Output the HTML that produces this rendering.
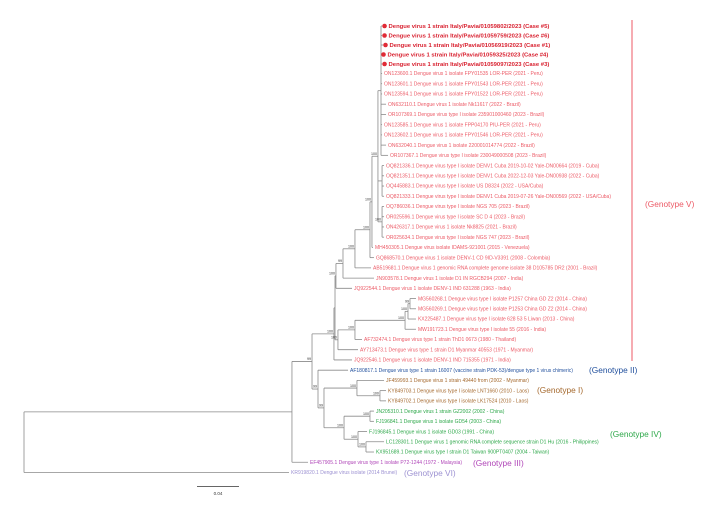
<!DOCTYPE html>
<html><head><meta charset="utf-8"><style>
html,body{margin:0;padding:0;background:#fff;}
svg{display:block;font-family:"Liberation Sans",sans-serif;}
</style></head><body>
<svg id="tree" width="725" height="509" viewBox="0 0 725 509" xmlns="http://www.w3.org/2000/svg"></svg>
<script>
// ---- data ----
const leafNames = [
"Dengue virus 1 strain Italy/Pavia/01059802/2023 (Case #5)",
"Dengue virus 1 strain Italy/Pavia/01059759/2023 (Case #6)",
"Dengue virus 1 strain Italy/Pavia/01056919/2023 (Case #1)",
"Dengue virus 1 strain Italy/Pavia/01059325/2023 (Case #4)",
"Dengue virus 1 strain Italy/Pavia/01059097/2023 (Case #3)",
"ON123600.1 Dengue virus 1 isolate FPY01535 LOR-PER (2021 - Peru)",
"ON123601.1 Dengue virus 1 isolate FPY01543 LOR-PER (2021 - Peru)",
"ON123594.1 Dengue virus 1 isolate FPY01522 LOR-PER (2021 - Peru)",
"ON632110.1 Dengue virus 1 isolate Nk11617 (2022 - Brazil)",
"OR107369.1 Dengue virus type I isolate 235901000460 (2023 - Brazil)",
"ON123585.1 Dengue virus 1 isolate FPP04170 PIU-PER (2021 - Peru)",
"ON123602.1 Dengue virus 1 isolate FPY01546 LOR-PER (2021 - Peru)",
"ON632040.1 Dengue virus 1 isolate 220001014774 (2022 - Brazil)",
"OR107367.1 Dengue virus type I isolate 230049000508 (2023 - Brazil)",
"OQ821336.1 Dengue virus type I isolate DENV1 Cuba 2019-10-02 Yale-DN00664 (2019 - Cuba)",
"OQ821351.1 Dengue virus type I isolate DENV1 Cuba 2022-12-03 Yale-DN00938 (2022 - Cuba)",
"OQ445883.1 Dengue virus type I isolate US D8324 (2022 - USA/Cuba)",
"OQ821333.1 Dengue virus type I isolate DENV1 Cuba 2019-07-26 Yale-DN00569 (2022 - USA/Cuba)",
"OQ786036.1 Dengue virus type I isolate NGS 705 (2023 - Brazil)",
"OR025596.1 Dengue virus type I isolate SC D 4 (2023 - Brazil)",
"ON426317.1 Dengue virus 1 isolate Nk8825 (2021 - Brazil)",
"OR025634.1 Dengue virus type I isolate NGS 747 (2023 - Brazil)",
"MH450305.1 Dengue virus isolate IDAMS-921001 (2015 - Venezuela)",
"GQ868570.1 Dengue virus 1 isolate DENV-1 CD 9ID-V3391 (2008 - Colombia)",
"AB519681.1 Dengue virus 1 genomic RNA complete genome isolate 38 D105785 DR2 (2001 - Brazil)",
"JN903578.1 Dengue virus 1 isolate D1 IN RGCB294 (2007 - India)",
"JQ922544.1 Dengue virus 1 isolate DENV-1 IND 631288 (1963 - India)",
"MG560268.1 Dengue virus type I isolate P1257 China GD Z2 (2014 - China)",
"MG560269.1 Dengue virus type I isolate P1253 China GD Z2 (2014 - China)",
"KX225487.1 Dengue virus type I isolate 628 53 5 Liwan (2013 - China)",
"MW191723.1 Dengue virus type I isolate 55 (2016 - India)",
"AF732474.1 Dengue virus type 1 strain ThD1 0673 (1980 - Thailand)",
"AY713473.1 Dengue virus type 1 strain D1 Myanmar 40553 (1971 - Myanmar)",
"JQ922546.1 Dengue virus 1 isolate DENV-1 IND 715355 (1971 - India)",
"AF180817.1 Dengue virus type 1 strain 16007 (vaccine strain PDK-53)/dengue type 1 virus chimeric)",
"JF459993.1 Dengue virus 1 strain 49440 from (2002 - Myanmar)",
"KY849703.1 Dengue virus type I isolate LNT1660 (2010 - Laos)",
"KY849702.1 Dengue virus type I isolate LK17524 (2010 - Laos)",
"JN205310.1 Dengue virus 1 strain GZ2002 (2002 - China)",
"FJ196841.1 Dengue virus 1 isolate GD54 (2003 - China)",
"FJ196845.1 Dengue virus 1 isolate GD03 (1991 - China)",
"LC128301.1 Dengue virus 1 genomic RNA complete sequence strain  D1 Hu (2016 - Philippines)",
"KX951689.1 Dengue virus type I strain D1 Taiwan 900PT0407 (2004 - Taiwan)",
"EF457905.1 Dengue virus type 1 isolate P72-1244 (1972 - Malaysia)",
"KR919820.1 Dengue virus isolate (2014 Brunei)"
];
const leafGenotype = ["C","C","C","C","C","V","V","V","V","V","V","V","V","V","V","V","V","V","V","V","V","V","V","V","V","V","V","V","V","V","V","V","V","V","II","I","I","I","IV","IV","IV","IV","IV","III","VI"];
// cumulative distance (substitutions/site) of each leaf from root
const leafDepth = [0.3410,0.3410,0.3419,0.3400,0.3410,0.3410,0.3410,0.3410,0.3448,0.3448,0.3410,0.3410,0.3448,0.3467,0.3429,0.3429,0.3429,0.3429,0.3429,0.3429,0.3429,0.3429,0.3324,0.3333,0.3305,0.3333,0.3124,0.3733,0.3733,0.3733,0.3733,0.3219,0.3181,0.3124,0.3086,0.3429,0.3448,0.3448,0.3333,0.3333,0.3267,0.3429,0.3333,0.2705,0.2524];
// internal nodes: [id, parent, depth, bootstrap]
const nodeIds =   ["root","A","B","C1","C2","K","L","M","N","O","P","Q","R","S","E","F","H","I","J","D","D2","GI","T","GIV","U","V","W"];
const nodeParent =[null,"root","A","B","C1","C2","K","L","M","N","O","P","P","P","C2","E","F","H","I","B","D","D2","GI","D2","GIV","GIV","V"];
const nodeDepth = [0,0.2552,0.2743,0.2952,0.2962,0.2971,0.3038,0.3152,0.3295,0.3314,0.3371,0.3400,0.3410,0.3410,0.2990,0.3152,0.3629,0.3657,0.3676,0.2800,0.2857,0.3171,0.3390,0.3048,0.3295,0.3181,0.3257];
const nodeBoot =  ["","","99","100","","100","99","100","100","100","100","","","100","100","100","100","100","99","99","99","100","100","100","100","100","100"];
const leafParent = ["Q","Q","Q","Q","Q","Q","Q","Q","Q","Q","Q","Q","Q","Q","R","R","R","R","S","S","S","S","O","N","M","L","K","J","J","I","H","F","E","C1","D","GI","T","T","U","U","V","W","W","A","root"];
const genoLabels = ["(Genotype V)","(Genotype II)","(Genotype I)","(Genotype IV)","(Genotype III)","(Genotype VI)"];

// ---- scales ----
const X0 = 24, PX_PER_UNIT = 1050;
const xs = d => X0 + d * PX_PER_UNIT;
const ys = i => i < 5 ? 26 + i * 9.5 : 73.5 + (i - 5) * 10.23;
const colors = {C:"#d81f2e",V:"#ec5a66",II:"#1f4e9c",I:"#a5692e",IV:"#2ea84a",III:"#b046b8",VI:"#9d92d2"};
const NS = "http://www.w3.org/2000/svg";
const svg = document.getElementById("tree");
function mk(tag, attrs){const e=document.createElementNS(NS,tag);for(const k in attrs)e.setAttribute(k,attrs[k]);svg.appendChild(e);return e;}

const nodeY = {}, nodeX = {};
nodeIds.forEach((id,i)=>{nodeX[id]=xs(nodeDepth[i]);});
const childrenY = {};
function addChild(p,y){(childrenY[p]=childrenY[p]||[]).push(y);}
leafParent.forEach((p,i)=>addChild(p,ys(i)));
for(let iter=0;iter<30;iter++){
  nodeIds.forEach((id)=>{const c=childrenY[id];if(c&&c.length){nodeY[id]=(Math.min(...c)+Math.max(...c))/2;}});
  for(const k in childrenY) childrenY[k]=[];
  leafParent.forEach((p,i)=>addChild(p,ys(i)));
  nodeIds.forEach((id,i)=>{const p=nodeParent[i];if(p&&nodeY[id]!==undefined)addChild(p,nodeY[id]);});
}
const line = "#8a8a8a";
nodeIds.forEach((id,i)=>{
  const c=childrenY[id];
  const v=mk("line",{x1:nodeX[id],x2:nodeX[id],y1:Math.min(...c),y2:Math.max(...c),stroke:line,"stroke-width":0.8});
  
  
  const p=nodeParent[i];
  if(p){
    const h=mk("line",{x1:nodeX[p],x2:nodeX[id],y1:nodeY[id],y2:nodeY[id],stroke:line,"stroke-width":0.8});
    
    
  }
  if(nodeBoot[i]){
    const t=mk("text",{x:nodeX[id]-1,y:nodeY[id]-1.3,"font-size":3.6,"text-anchor":"end",fill:"#333"});
    t.textContent=nodeBoot[i];
    
    
  }
});
leafNames.forEach((name,i)=>{
  const y=ys(i), xe=xs(leafDepth[i]), p=leafParent[i], g=leafGenotype[i];
  const b=mk("line",{x1:nodeX[p],x2:xe,y1:y,y2:y,stroke:line,"stroke-width":0.8});
  
  
  let tx=xe+2;
  if(g==="C"){
    const d=mk("circle",{cx:xe+2.5,cy:y,r:2.3,fill:"#e02a36"});
    
    
    tx=xe+6.5;
  }
  const t=mk("text",{x:tx,y:y+(g==="C"?2:1.7),"font-size":g==="C"?5.9:5,"font-weight":g==="C"?"bold":"normal",fill:colors[g]});
  t.textContent=name;
  
  
});
const br=mk("line",{x1:632,x2:632,y1:20,y2:361,stroke:"#ec5a66","stroke-width":1});


const gpos=[[645,207,"V"],[589,373,"II"],[537,393,"I"],[610,437,"IV"],[473,466,"III"],[404,476,"VI"]];
genoLabels.forEach((lab,i)=>{
  const t=mk("text",{x:gpos[i][0],y:gpos[i][1],"font-size":8.3,fill:colors[gpos[i][2]]});
  t.textContent=lab;
  
  
});
const sb=mk("line",{x1:197,x2:197+0.04*PX_PER_UNIT,y1:486.5,y2:486.5,stroke:"#666","stroke-width":0.9});


const st=mk("text",{x:218,y:495,"font-size":4.5,"text-anchor":"middle",fill:"#333"});
st.textContent="0.04";


</script>
</body></html>
